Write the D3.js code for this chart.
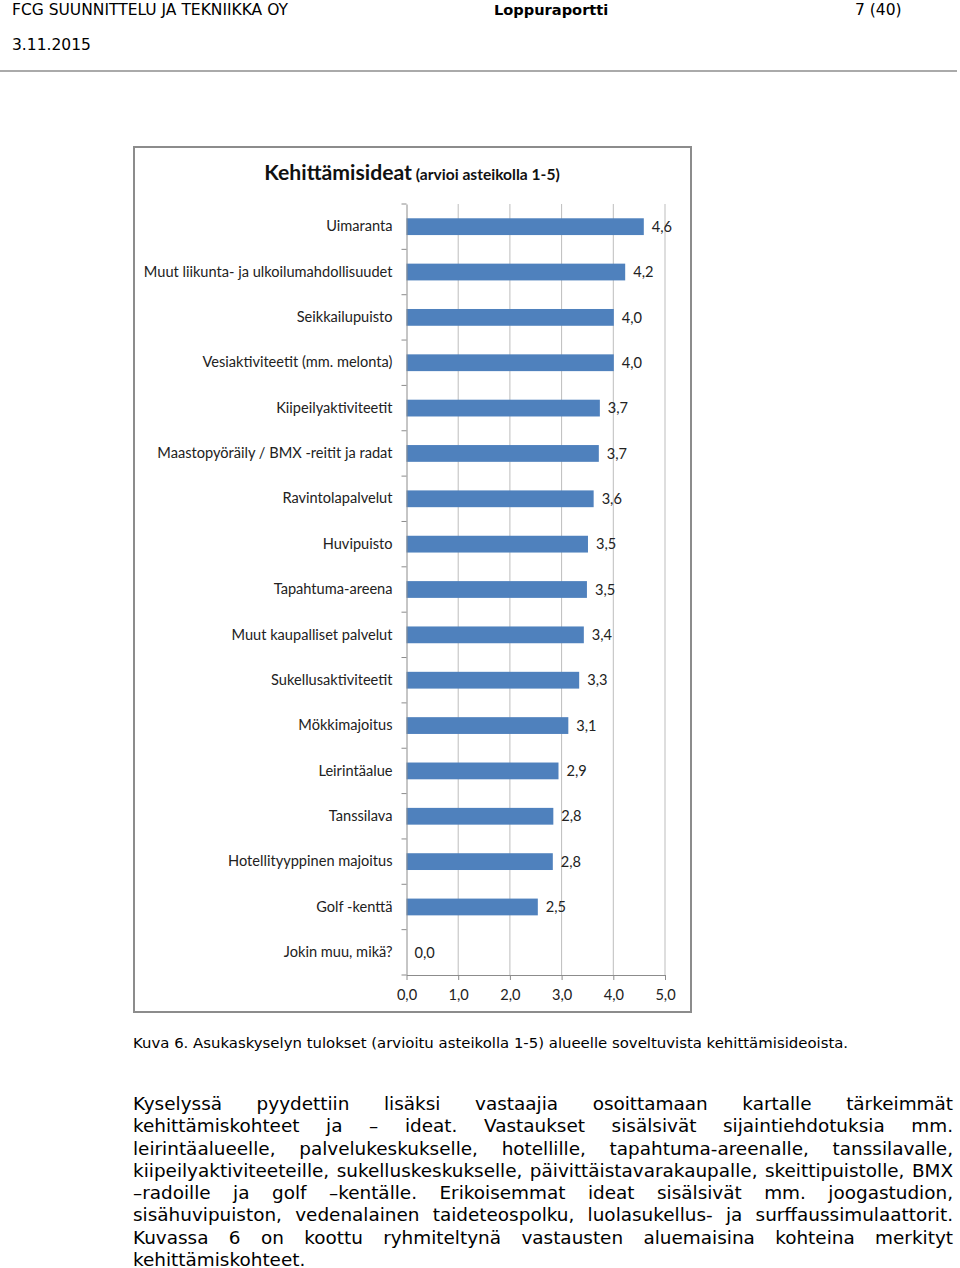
<!DOCTYPE html>
<html>
<head>
<meta charset="utf-8">
<script src="https://cdn.jsdelivr.net/npm/d3@7"></script>
<style>
  html, body { margin: 0; padding: 0; background: #fff; }
  body { width: 960px; height: 1268px; position: relative; overflow: hidden; }
  #chart { position: absolute; left: 0; top: 0; }
  .hdr { position: absolute; font-family: "DejaVu Sans", sans-serif; font-size: 15.5px; color: #000; white-space: nowrap; line-height: 18px; }
  #caption { position: absolute; left: 133px; top: 1034px; font-family: "DejaVu Sans", sans-serif; font-size: 14.9px; white-space: nowrap; line-height: 18px; }
  #body { position: absolute; left: 133px; top: 1093px; width: 820px; font-family: "DejaVu Sans", sans-serif; font-size: 18px; line-height: 22.3px; }
  #body div { text-align: justify; text-align-last: justify; white-space: normal; }
  #body div.last { text-align-last: left; line-height: 16px; padding-top: 3px; }
</style>
</head>
<body>
<div class="hdr" style="left:12px; top:1px;">FCG SUUNNITTELU JA TEKNIIKKA OY</div>
<div class="hdr" style="left:494px; top:1px; font-weight:bold; font-size:14.6px;">Loppuraportti</div>
<div class="hdr" style="left:855px; top:1px;">7 (40)</div>
<div class="hdr" style="left:12px; top:36px;">3.11.2015</div>
<svg id="chart" width="960" height="1268"></svg>
<div id="caption">Kuva 6. Asukaskyselyn tulokset (arvioitu asteikolla 1-5) alueelle soveltuvista kehittämisideoista.</div>
<div id="body"></div>
<script>
const categories = [
  "Uimaranta",
  "Muut liikunta- ja ulkoilumahdollisuudet",
  "Seikkailupuisto",
  "Vesiaktiviteetit (mm. melonta)",
  "Kiipeilyaktiviteetit",
  "Maastopyöräily / BMX -reitit ja radat",
  "Ravintolapalvelut",
  "Huvipuisto",
  "Tapahtuma-areena",
  "Muut kaupalliset palvelut",
  "Sukellusaktiviteetit",
  "Mökkimajoitus",
  "Leirintäalue",
  "Tanssilava",
  "Hotellityyppinen majoitus",
  "Golf -kenttä",
  "Jokin muu, mikä?"
];
const values = [4.59, 4.23, 4.01, 4.01, 3.74, 3.72, 3.62, 3.51, 3.49, 3.43, 3.34, 3.13, 2.94, 2.84, 2.83, 2.54, 0.0];
const xTicks = [0, 1, 2, 3, 4, 5];
const titleMain = "Kehittämisideat";
const titleSub = " (arvioi asteikolla 1-5)";
const bodyLines = [
  "Kyselyssä pyydettiin lisäksi vastaajia osoittamaan kartalle tärkeimmät",
  "kehittämiskohteet ja – ideat. Vastaukset sisälsivät sijaintiehdotuksia mm.",
  "leirintäalueelle, palvelukeskukselle, hotellille, tapahtuma-areenalle, tanssilavalle,",
  "kiipeilyaktiviteeteille, sukelluskeskukselle, päivittäistavarakaupalle, skeittipuistolle, BMX",
  "–radoille ja golf –kentälle. Erikoisemmat ideat sisälsivät mm. joogastudion,",
  "sisähuvipuiston, vedenalainen taideteospolku, luolasukellus- ja surffaussimulaattorit.",
  "Kuvassa 6 on koottu ryhmiteltynä vastausten aluemaisina kohteina merkityt",
  "kehittämiskohteet."
];

const fmt = v => d3.format(".1f")(v).replace(".", ",");
const svg = d3.select("#chart");

// header rule
svg.append("line").attr("x1", 0).attr("x2", 957).attr("y1", 71).attr("y2", 71)
  .attr("stroke", "#aaa").attr("stroke-width", 2);

// chart frame
svg.append("rect").attr("x", 134).attr("y", 147).attr("width", 557).attr("height", 865)
  .attr("fill", "#fff").attr("stroke", "#8c8c8c").attr("stroke-width", 2);

const font = "Lato, 'Open Sans', sans-serif";
const fs = 14.6;
// title
const title = svg.append("text").attr("x", 412).attr("y", 180).attr("text-anchor", "middle")
  .attr("font-family", font).attr("font-weight", "bold").attr("fill", "#111");
title.append("tspan").attr("font-size", 21.2).text(titleMain);
title.append("tspan").attr("font-size", 15.6).text(titleSub);

const x = d3.scaleLinear().domain([0, 5]).range([406.5, 665]);
const y = d3.scaleBand().domain(categories).range([204, 975]).paddingInner(0.63).paddingOuter(0.315);

// gridlines
svg.append("g").selectAll("line").data(xTicks.slice(1)).join("line")
  .attr("x1", d => x(d)).attr("x2", d => x(d)).attr("y1", 204).attr("y2", 975)
  .attr("stroke", "#bdbdbd").attr("stroke-width", 1);

// bars
svg.append("g").selectAll("rect").data(values).join("rect")
  .attr("x", x(0)).attr("y", (d, i) => y(categories[i]))
  .attr("width", d => x(d) - x(0)).attr("height", y.bandwidth())
  .attr("fill", "#4f81bd");

// value labels
svg.append("g").selectAll("text").data(values).join("text")
  .attr("x", d => x(d) + 8).attr("y", (d, i) => y(categories[i]) + y.bandwidth() / 2 + 1.5)
  .attr("dominant-baseline", "middle").attr("font-family", font).attr("font-size", fs)
  .attr("fill", "#222").text(d => fmt(d));

// y axis
const yAxisG = svg.append("g").attr("transform", `translate(${x(0)},0)`)
  .call(d3.axisLeft(y).tickSize(0).tickPadding(14));
yAxisG.select(".domain").attr("stroke", "#8c8c8c");
yAxisG.selectAll("text").attr("font-family", font).attr("font-size", fs).attr("fill", "#222");
// category boundary ticks
const bounds = d3.range(categories.length + 1).map(i => 204 + i * y.step());
svg.append("g").selectAll("line").data(bounds).join("line")
  .attr("x1", x(0) - 5).attr("x2", x(0)).attr("y1", d => d).attr("y2", d => d)
  .attr("stroke", "#8c8c8c");

// x axis
const xAxisG = svg.append("g").attr("transform", "translate(0,975)")
  .call(d3.axisBottom(x).tickValues(xTicks).tickFormat(fmt).tickSize(5).tickSizeOuter(0).tickPadding(10));
xAxisG.select(".domain").attr("stroke", "#8c8c8c");
xAxisG.selectAll("line").attr("stroke", "#8c8c8c");
xAxisG.selectAll("text").attr("font-family", font).attr("font-size", fs).attr("fill", "#222");

// body text: pick a font size so the longest line fits the column width
const ctx = document.createElement("canvas").getContext("2d");
ctx.font = "100px 'DejaVu Sans'";
const widest = d3.max(bodyLines, l => ctx.measureText(l).width);
const bodySize = Math.min(19.5, 100 * 814 / widest);
d3.select("#body").style("font-size", bodySize + "px");
d3.select("#body").selectAll("div").data(bodyLines).join("div")
  .classed("last", (d, i) => i === bodyLines.length - 1)
  .text(d => d);
</script>
</body>
</html>
